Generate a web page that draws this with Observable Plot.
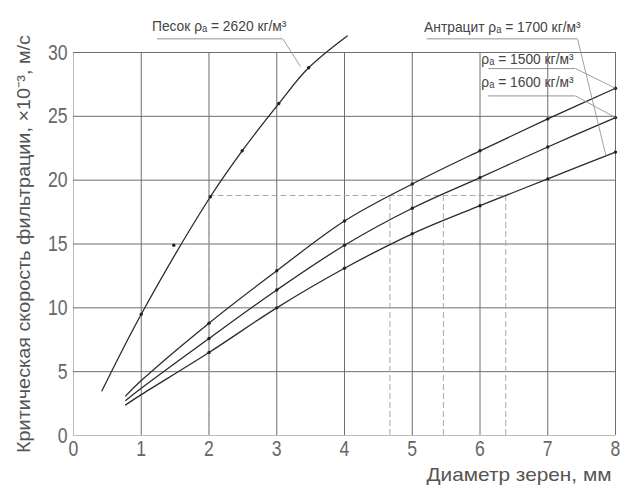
<!DOCTYPE html>
<html>
<head>
<meta charset="utf-8">
<script src="https://cdn.jsdelivr.net/npm/d3@7"></script>
<script src="https://cdn.jsdelivr.net/npm/@observablehq/plot@0.6"></script>
<style>
  html, body { margin: 0; padding: 0; background: #fff; }
</style>
</head>
<body>
<div id="chart"></div>
<script>
// ---- data ----
const xTicks = [0, 1, 2, 3, 4, 5, 6, 7, 8];
const yTicks = [0, 5, 10, 15, 20, 25, 30];

// sand curve (line) and its measured points
const sandX = [0.42, 1, 2.02, 2.49, 3.03, 3.47, 4.04];
const sandY = [3.5, 9.5, 18.7, 22.3, 26.0, 28.8, 31.3];
const sandDotX = [1, 1.48, 2.02, 2.49, 3.03, 3.47];
const sandDotY = [9.5, 14.9, 18.7, 22.3, 26.0, 28.8];

// anthracite curves
const anthX    = [0.77, 1, 2, 3, 4, 5, 6, 7, 8];
const anth1700 = [3.1, 4.3, 8.8, 12.9, 16.8, 19.7, 22.3, 24.8, 27.2];
const anth1600 = [2.75, 3.7, 7.6, 11.4, 14.9, 17.8, 20.2, 22.6, 24.9];
const anth1500 = [2.4, 3.2, 6.5, 10.0, 13.1, 15.8, 18.0, 20.1, 22.2];

const dashLevel = 18.8;
const dashX = [2, 4.67, 5.46, 6.38];

const labelTexts = ["Песок ρₐ = 2620 кг/м³", "Антрацит ρₐ = 1700 кг/м³", "ρₐ = 1500 кг/м³", "ρₐ = 1600 кг/м³"];
const yTitle = "Критическая скорость фильтрации, ×10⁻³, м/с";
const xTitle = "Диаметр зерен, мм";

// annotation anchors (data coordinates)
const labelX = [2.15, 6.33, 6.70, 6.70];
const labelY = [32.1, 32.0, 29.5, 27.7];
const ulX1 = [1.24, 5.22, 6.13, 6.13];
const ulX2 = [3.09, 7.44, 7.41, 7.41];
const ulY  = [31.07, 31.07, 28.74, 26.6];
const ldX2 = [3.35, 7.86, 8.0, 8.0];
const ldY2 = [28.9, 21.9, 27.2, 24.9];

// ---- tables ----
const sand = sandX.map((x, i) => ({x, y: sandY[i]}));
const sandDots = sandDotX.map((x, i) => ({x, y: sandDotY[i]}));
const anth = [];
[["1700", anth1700], ["1600", anth1600], ["1500", anth1500]].forEach(([k, arr]) =>
  anthX.forEach((x, i) => anth.push({x, y: arr[i], k, i})));
const anthDots = anth.filter(d => d.i >= 2);
const labels = labelTexts.map((t, i) => ({t, x: labelX[i], y: labelY[i], x1: ulX1[i], x2: ulX2[i], uy: ulY[i], lx: ldX2[i], ly: ldY2[i]}));
const innerX = xTicks.filter(v => v !== 0);
const innerY = yTicks.filter(v => v !== 0);

const font = "'Liberation Sans Narrow', 'Arial Narrow', 'Liberation Sans', sans-serif";

const chart = Plot.plot({
  width: 622,
  height: 494,
  marginLeft: 73,
  marginRight: 7,
  marginTop: 52,
  marginBottom: 59,
  x: {domain: [0, 8]},
  y: {domain: [0, 30]},
  style: {fontFamily: font, background: "#fff", overflow: "visible"},
  marks: [
    // axis lines
    Plot.ruleX([0], {y1: 0, y2: 30, stroke: "#bbb", strokeWidth: 1}),
    Plot.ruleY([0], {x1: 0, x2: 8, stroke: "#bbb", strokeWidth: 1}),
    // grid
    Plot.ruleX(innerX, {y1: 0, y2: 30, stroke: "#6f6f6f", strokeWidth: 1}),
    Plot.ruleY(innerY, {x1: 0, x2: 8, stroke: "#6f6f6f", strokeWidth: 1}),
    // dashed construction lines
    Plot.ruleY([dashLevel], {x1: dashX[0], x2: dashX[dashX.length - 1], stroke: "#aaa", strokeDasharray: "6,3"}),
    Plot.ruleX(dashX, {y1: 0, y2: dashLevel, stroke: "#aaa", strokeDasharray: "6,3"}),
    // tick labels
    Plot.axisX({ticks: xTicks, tickSize: 0, tickPadding: 5, fontSize: 22, fill: "#666", label: null, tickFormat: d => String(d)}),
    Plot.axisY({ticks: yTicks, tickSize: 0, tickPadding: 6, fontSize: 22, fill: "#666", label: null, tickFormat: d => String(d)}),
    // curves
    Plot.line(sand, {x: "x", y: "y", curve: "catmull-rom", stroke: "#2a2a2a", strokeWidth: 1.3}),
    Plot.line(anth, {x: "x", y: "y", z: "k", curve: "catmull-rom", stroke: "#2a2a2a", strokeWidth: 1.3}),
    Plot.dot(sandDots, {x: "x", y: "y", r: 1.7, fill: "#222"}),
    Plot.dot(anthDots, {x: "x", y: "y", r: 1.7, fill: "#222"}),
    // annotations
    Plot.ruleY(labels, {y: "uy", x1: "x1", x2: "x2", stroke: "#777", strokeWidth: 0.8}),
    Plot.link(labels, {x1: "x2", y1: "uy", x2: "lx", y2: "ly", stroke: "#888", strokeWidth: 0.8}),
    Plot.text(labels, {x: "x", y: "y", text: "t", fontSize: 15, fill: "#444"}),
    // axis titles
    Plot.text([yTitle], {frameAnchor: "left", textAnchor: "middle", rotate: -90, dx: -50, fontSize: 19, fill: "#555"}),
    Plot.text([xTitle], {frameAnchor: "bottom-right", textAnchor: "end", dx: -4, dy: 45, fontSize: 19, fill: "#555"})
  ]
});
document.getElementById("chart").appendChild(chart);

// narrow-font look: compress text horizontally
function squeeze(el, len) {
  el.setAttribute("textLength", len);
  el.setAttribute("lengthAdjust", "spacingAndGlyphs");
}
chart.querySelectorAll("text").forEach(t => {
  const s = t.textContent;
  const L = t.getComputedTextLength();
  if (s === yTitle) squeeze(t, 418);
  else if (s === xTitle) squeeze(t, 185);
  else if (labelTexts.includes(s)) squeeze(t, L * 0.92);
  else if (/^\d+$/.test(s)) squeeze(t, L * 0.8);
});
</script>
</body>
</html>
